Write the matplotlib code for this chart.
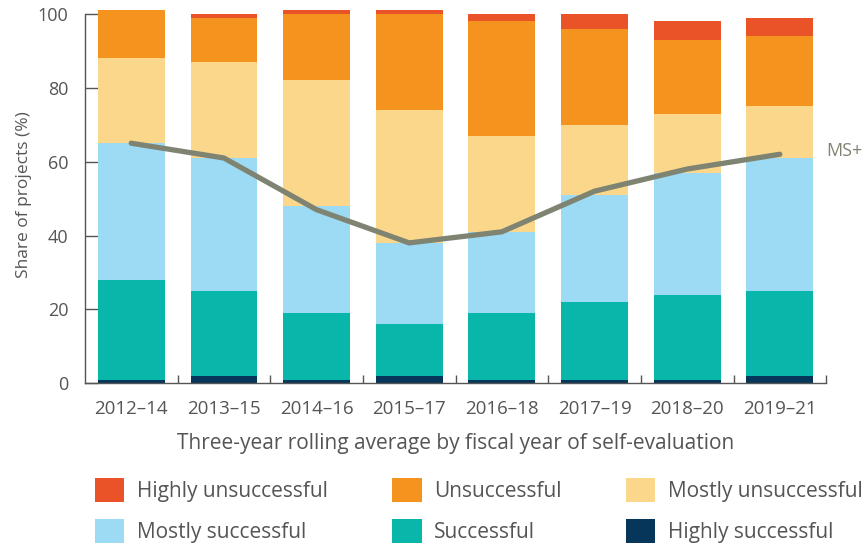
import numpy as np
import matplotlib
matplotlib.use("Agg")
import matplotlib.pyplot as plt
from matplotlib.patches import Patch

plt.rcParams['font.family'] = ['Open Sans', 'DejaVu Sans']

periods = ['2012–14', '2013–15', '2014–16', '2015–17', '2016–18', '2017–19', '2018–20', '2019–21']

# share of projects per rating (%), bottom to top
highly_successful = [1, 2, 1, 2, 1, 1, 1, 2]
successful = [27, 23, 18, 14, 18, 21, 23, 23]
mostly_successful = [37, 36, 29, 22, 22, 29, 33, 36]
mostly_unsuccessful = [23, 26, 34, 36, 26, 19, 16, 14]
unsuccessful = [13, 12, 18, 26, 31, 26, 20, 19]
highly_unsuccessful = [0, 1, 1, 1, 2, 4, 5, 5]

ms_plus = [65, 61, 47, 38, 41, 52, 58, 62]

series = [
    ('Highly successful', highly_successful, '#06375a'),
    ('Successful', successful, '#08b6aa'),
    ('Mostly successful', mostly_successful, '#9ddaf4'),
    ('Mostly unsuccessful', mostly_unsuccessful, '#fad78a'),
    ('Unsuccessful', unsuccessful, '#f5931f'),
    ('Highly unsuccessful', highly_unsuccessful, '#ea5228'),
]

grey = '#555555'
line_col = '#7f8472'

fig = plt.figure(figsize=(8.66, 5.49), dpi=100)
ax = fig.add_axes([0.098, 0.302, 0.856, 0.686])

x = np.arange(len(periods))
bottom = np.zeros(len(periods))
handles = {}
for name, vals, col in series:
    vals = np.array(vals, dtype=float)
    ax.bar(x, vals, bottom=bottom, width=0.72, color=col, linewidth=0, zorder=2)
    bottom += vals
    handles[name] = Patch(facecolor=col, edgecolor='none', label=name)

ax.plot(x, ms_plus, color=line_col, linewidth=3.8, solid_capstyle='round',
        solid_joinstyle='miter', zorder=3)
ax.text(7.5, ms_plus[-1] + 1, 'MS+', color=line_col, fontsize=13, va='center', ha='left')

ax.set_xlim(-0.5, 7.5)
ax.set_ylim(0, 102)
ax.set_yticks([0, 20, 40, 60, 80, 100])
ax.set_xticks(x)
ax.set_xticklabels(periods)
ax.set_xticks(np.arange(0.5, 8, 1), minor=True)
ax.tick_params(axis='x', which='major', length=0, pad=12, labelsize=13.5, labelcolor=grey)
ax.tick_params(axis='x', which='minor', direction='in', length=6, color=grey, width=1)
ax.tick_params(axis='y', direction='in', length=9, color=grey, width=1, pad=12,
               labelsize=13, labelcolor=grey)

for s in ['top', 'right']:
    ax.spines[s].set_visible(False)
for s in ['left', 'bottom']:
    ax.spines[s].set_color(grey)
    ax.spines[s].set_linewidth(1)
ax.spines['left'].set_bounds(0, 100)

ax.set_ylabel('Share of projects (%)', fontsize=12.5, color=grey, labelpad=4)
ax.set_xlabel('Three-year rolling average by fiscal year of self-evaluation',
              fontsize=15, color=grey, labelpad=11)

# legend rows: HU, U, MU / MS, S, HS (filled column by column)
order = ['Highly unsuccessful', 'Mostly successful', 'Unsuccessful', 'Successful',
         'Mostly unsuccessful', 'Highly successful']
leg = fig.legend([handles[n] for n in order], order, ncol=3, loc='upper left',
                 bbox_to_anchor=(0.11, 0.13), bbox_transform=fig.transFigure,
                 frameon=False, fontsize=15, handlelength=1.4, handleheight=1.4,
                 handletextpad=0.6, columnspacing=3.1, labelspacing=0.85,
                 borderaxespad=0, borderpad=0)
for t in leg.get_texts():
    t.set_color(grey)

fig.savefig('out.png', dpi=100)
